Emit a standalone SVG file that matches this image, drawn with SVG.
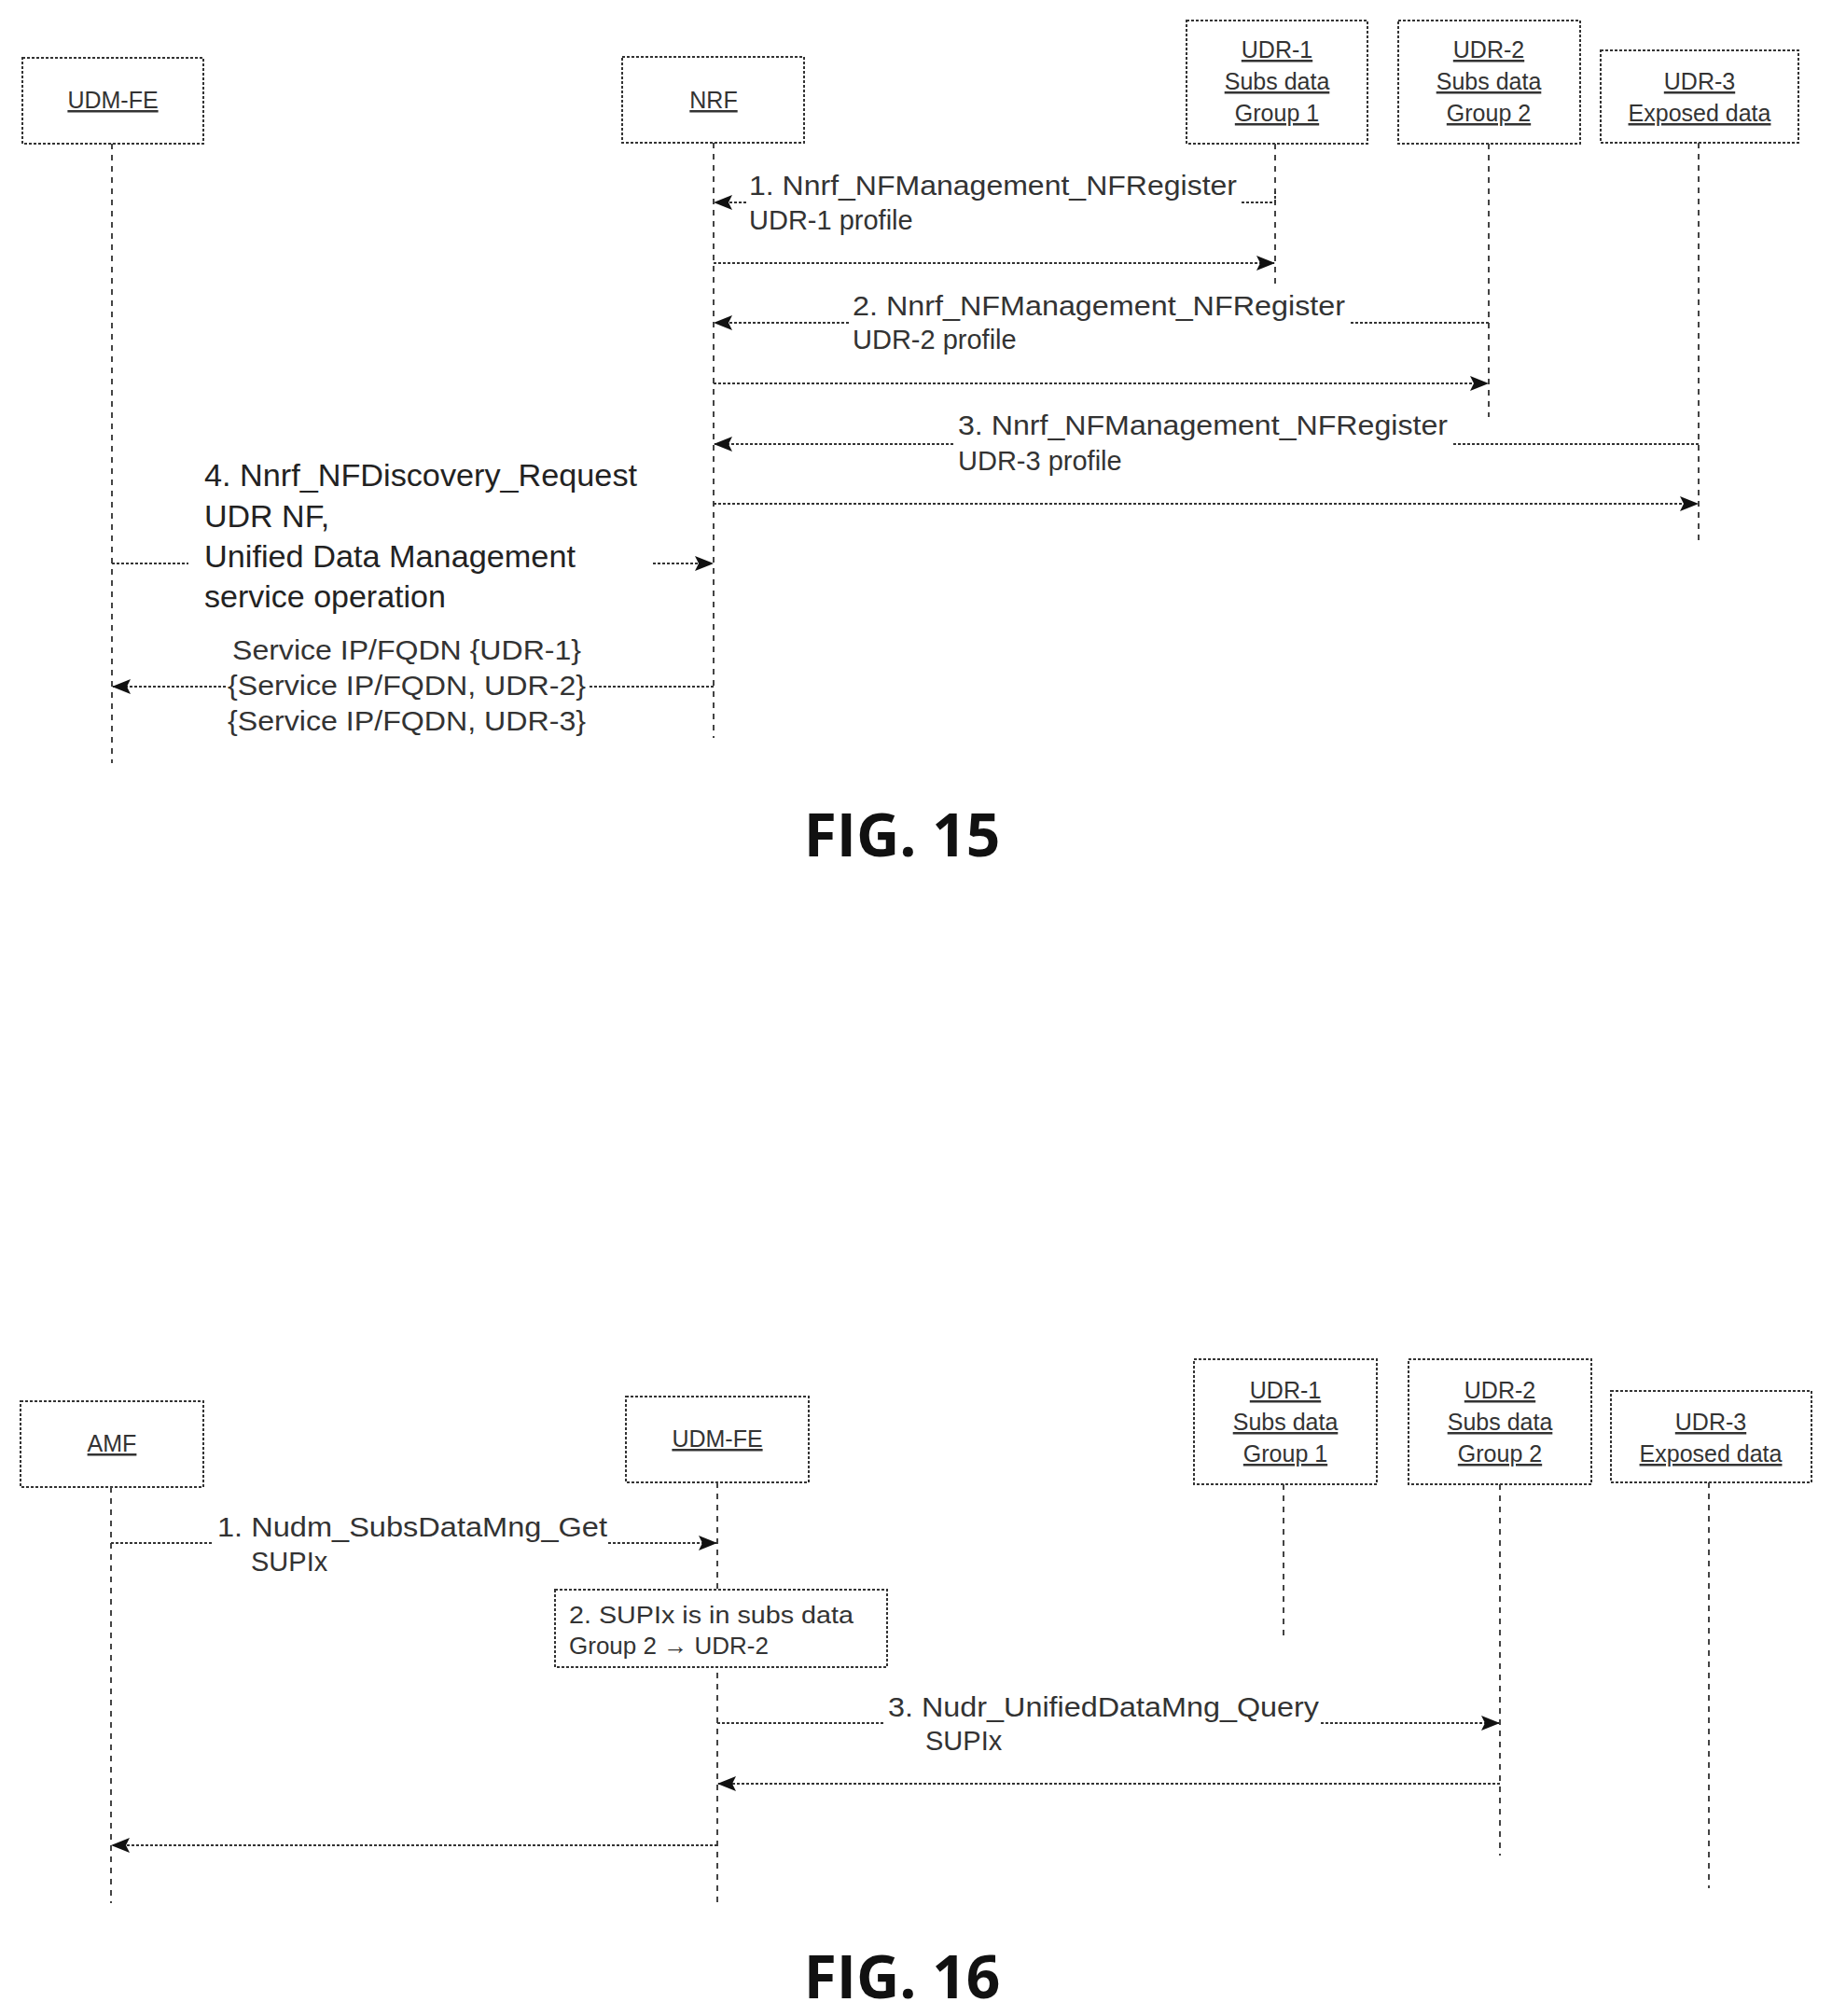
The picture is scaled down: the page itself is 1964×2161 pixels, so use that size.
<svg xmlns="http://www.w3.org/2000/svg" width="1964" height="2161" viewBox="0 0 1964 2161">
<style>
.box{fill:#fff;stroke:#333;stroke-width:2;stroke-dasharray:3 2}
.life{stroke:#444;stroke-width:2;stroke-dasharray:6 6;fill:none}
.msg{stroke:#333;stroke-width:2;stroke-dasharray:3 2;fill:none}
.lbl{font-family:"Liberation Sans",Arial,sans-serif;font-size:25px;fill:#333;text-anchor:middle;text-decoration:underline}
.t{font-family:"Liberation Sans",Arial,sans-serif;font-size:29px;fill:#333}
.tb{font-family:"Liberation Sans",Arial,sans-serif;font-size:34px;fill:#222}
.fig{font-family:"Open Sans","DejaVu Sans",sans-serif;font-weight:bold;font-size:64px;fill:#111;text-anchor:middle}
</style>
<defs><marker id="ah" markerWidth="20" markerHeight="16" refX="19" refY="8" orient="auto" markerUnits="userSpaceOnUse"><path d="M0,0 L20,8 L0,16 L4,8 Z" fill="#111"/></marker></defs>
<rect width="1964" height="2161" fill="#fff"/>
<g id="f15-udmfe"><rect class="box" x="24" y="62" width="194" height="92"/><text class="lbl" x="121" y="116">UDM-FE</text><line class="life" x1="120" y1="154" x2="120" y2="818"/></g>
<g id="f15-nrf"><rect class="box" x="667" y="61" width="195" height="92"/><text class="lbl" x="765" y="116">NRF</text><line class="life" x1="765" y1="153" x2="765" y2="791"/></g>
<g id="f15-udr1"><rect class="box" x="1272" y="22" width="194" height="132"/><text class="lbl" x="1369" y="62">UDR-1</text><text class="lbl" x="1369" y="96">Subs data</text><text class="lbl" x="1369" y="130">Group 1</text><line class="life" x1="1367" y1="154" x2="1367" y2="304"/></g>
<g id="f15-udr2"><rect class="box" x="1499" y="22" width="195" height="132"/><text class="lbl" x="1596" y="62">UDR-2</text><text class="lbl" x="1596" y="96">Subs data</text><text class="lbl" x="1596" y="130">Group 2</text><line class="life" x1="1596" y1="154" x2="1596" y2="447"/></g>
<g id="f15-udr3"><rect class="box" x="1716" y="54" width="212" height="99"/><text class="lbl" x="1822" y="96">UDR-3</text><text class="lbl" x="1822" y="130">Exposed data</text><line class="life" x1="1821" y1="153" x2="1821" y2="585"/></g>
<g id="f15-connectors">
<polyline class="msg" points="1367,205 1367,217 1330,217"/><line class="msg" x1="800" y1="217" x2="766" y2="217" marker-end="url(#ah)"/>
<text class="t" x="803" y="209" textLength="523" lengthAdjust="spacingAndGlyphs">1. Nnrf_NFManagement_NFRegister</text><text class="t" x="803" y="246">UDR-1 profile</text>
<line class="msg" x1="765" y1="282" x2="1366" y2="282" marker-end="url(#ah)"/>
<line class="msg" x1="1596" y1="346" x2="1446" y2="346"/><line class="msg" x1="910" y1="346" x2="766" y2="346" marker-end="url(#ah)"/>
<text class="t" x="914" y="338" textLength="528" lengthAdjust="spacingAndGlyphs">2. Nnrf_NFManagement_NFRegister</text><text class="t" x="914" y="374">UDR-2 profile</text>
<line class="msg" x1="765" y1="411" x2="1595" y2="411" marker-end="url(#ah)"/>
<line class="msg" x1="1821" y1="476" x2="1556" y2="476"/><line class="msg" x1="1022" y1="476" x2="766" y2="476" marker-end="url(#ah)"/>
<text class="t" x="1027" y="466" textLength="525" lengthAdjust="spacingAndGlyphs">3. Nnrf_NFManagement_NFRegister</text><text class="t" x="1027" y="504">UDR-3 profile</text>
<line class="msg" x1="765" y1="540" x2="1820" y2="540" marker-end="url(#ah)"/>
<line class="msg" x1="120" y1="604" x2="202" y2="604"/><line class="msg" x1="700" y1="604" x2="764" y2="604" marker-end="url(#ah)"/>
<text class="tb" x="219" y="521" textLength="464" lengthAdjust="spacingAndGlyphs">4. Nnrf_NFDiscovery_Request</text><text class="tb" x="219" y="565">UDR NF,</text><text class="tb" x="219" y="608" textLength="398" lengthAdjust="spacingAndGlyphs">Unified Data Management</text><text class="tb" x="219" y="651">service operation</text>
<line class="msg" x1="765" y1="736" x2="630" y2="736"/><line class="msg" x1="242" y1="736" x2="121" y2="736" marker-end="url(#ah)"/>
<text class="t" x="249" y="707" textLength="374" lengthAdjust="spacingAndGlyphs">Service IP/FQDN {UDR-1}</text><text class="t" x="244" y="745" textLength="384" lengthAdjust="spacingAndGlyphs">{Service IP/FQDN, UDR-2}</text><text class="t" x="244" y="783" textLength="384" lengthAdjust="spacingAndGlyphs">{Service IP/FQDN, UDR-3}</text>
</g>
<text class="fig" x="967" y="918">FIG. 15</text>
<g id="f16-amf"><rect class="box" x="22" y="1502" width="196" height="92"/><text class="lbl" x="120" y="1556">AMF</text><line class="life" x1="119" y1="1594" x2="119" y2="2040"/></g>
<g id="f16-udmfe"><rect class="box" x="671" y="1497" width="196" height="92"/><text class="lbl" x="769" y="1551">UDM-FE</text><line class="life" x1="769" y1="1589" x2="769" y2="2040"/></g>
<g id="f16-udr1"><rect class="box" x="1280" y="1457" width="196" height="134"/><text class="lbl" x="1378" y="1499">UDR-1</text><text class="lbl" x="1378" y="1533">Subs data</text><text class="lbl" x="1378" y="1567">Group 1</text><line class="life" x1="1376" y1="1591" x2="1376" y2="1753"/></g>
<g id="f16-udr2"><rect class="box" x="1510" y="1457" width="196" height="134"/><text class="lbl" x="1608" y="1499">UDR-2</text><text class="lbl" x="1608" y="1533">Subs data</text><text class="lbl" x="1608" y="1567">Group 2</text><line class="life" x1="1608" y1="1591" x2="1608" y2="1989"/></g>
<g id="f16-udr3"><rect class="box" x="1727" y="1491" width="215" height="98"/><text class="lbl" x="1834" y="1533">UDR-3</text><text class="lbl" x="1834" y="1567">Exposed data</text><line class="life" x1="1832" y1="1589" x2="1832" y2="2024"/></g>
<g id="f16-note"><rect class="box" x="595" y="1704" width="356" height="83"/><text class="t" x="610" y="1740" style="font-size:26px" textLength="305" lengthAdjust="spacingAndGlyphs">2. SUPIx is in subs data</text><text class="t" x="610" y="1773" style="font-size:26px">Group 2 → UDR-2</text></g>
<g id="f16-connectors">
<line class="msg" x1="119" y1="1654" x2="228" y2="1654"/><line class="msg" x1="652" y1="1654" x2="768" y2="1654" marker-end="url(#ah)"/>
<text class="t" x="233" y="1647" textLength="418" lengthAdjust="spacingAndGlyphs">1. Nudm_SubsDataMng_Get</text><text class="t" x="269" y="1684">SUPIx</text>
<line class="msg" x1="769" y1="1847" x2="948" y2="1847"/><line class="msg" x1="1416" y1="1847" x2="1607" y2="1847" marker-end="url(#ah)"/>
<text class="t" x="952" y="1840" textLength="462" lengthAdjust="spacingAndGlyphs">3. Nudr_UnifiedDataMng_Query</text><text class="t" x="992" y="1876">SUPIx</text>
<line class="msg" x1="1608" y1="1912" x2="770" y2="1912" marker-end="url(#ah)"/>
<line class="msg" x1="769" y1="1978" x2="120" y2="1978" marker-end="url(#ah)"/>
</g>
<text class="fig" x="967" y="2142">FIG. 16</text>
</svg>
